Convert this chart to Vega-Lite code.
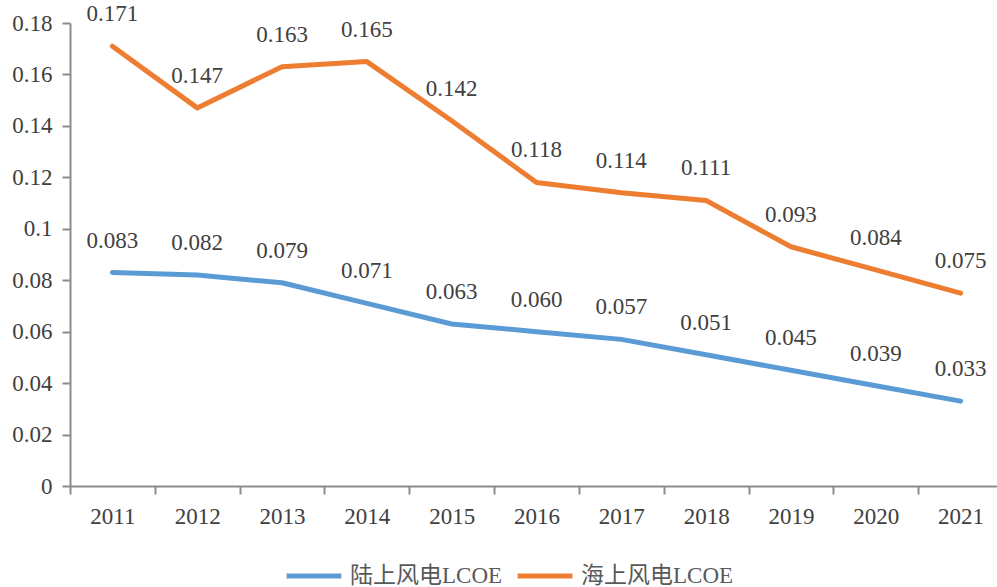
{
  "$schema": "https://vega.github.io/schema/vega-lite/v6.json",
  "width": 933,
  "height": 463,
  "autosize": {"type": "none"},
  "padding": {"left": 70, "top": 23, "right": 0, "bottom": 101},
  "background": "white",
  "config": {
    "view": {"stroke": null},
    "font": "Liberation Serif",
    "axis": {"grid": false, "domainColor": "#8c8c8c", "tickColor": "#8c8c8c", "domainWidth": 2, "tickWidth": 2, "tickSize": 8, "labelColor": "#404040", "labelFont": "Liberation Serif", "labelFontSize": 23}
  },
  "data": {
    "values": [
      {"year": "2011", "series": "陆上风电LCOE", "v": 0.083},
      {"year": "2012", "series": "陆上风电LCOE", "v": 0.082},
      {"year": "2013", "series": "陆上风电LCOE", "v": 0.079},
      {"year": "2014", "series": "陆上风电LCOE", "v": 0.071},
      {"year": "2015", "series": "陆上风电LCOE", "v": 0.063},
      {"year": "2016", "series": "陆上风电LCOE", "v": 0.060},
      {"year": "2017", "series": "陆上风电LCOE", "v": 0.057},
      {"year": "2018", "series": "陆上风电LCOE", "v": 0.051},
      {"year": "2019", "series": "陆上风电LCOE", "v": 0.045},
      {"year": "2020", "series": "陆上风电LCOE", "v": 0.039},
      {"year": "2021", "series": "陆上风电LCOE", "v": 0.033},
      {"year": "2011", "series": "海上风电LCOE", "v": 0.171},
      {"year": "2012", "series": "海上风电LCOE", "v": 0.147},
      {"year": "2013", "series": "海上风电LCOE", "v": 0.163},
      {"year": "2014", "series": "海上风电LCOE", "v": 0.165},
      {"year": "2015", "series": "海上风电LCOE", "v": 0.142},
      {"year": "2016", "series": "海上风电LCOE", "v": 0.118},
      {"year": "2017", "series": "海上风电LCOE", "v": 0.114},
      {"year": "2018", "series": "海上风电LCOE", "v": 0.111},
      {"year": "2019", "series": "海上风电LCOE", "v": 0.093},
      {"year": "2020", "series": "海上风电LCOE", "v": 0.084},
      {"year": "2021", "series": "海上风电LCOE", "v": 0.075}
    ]
  },
  "encoding": {
    "x": {
      "field": "year", "type": "ordinal", "bandPosition": 0.5,
      "scale": {"type": "band", "paddingInner": 0, "paddingOuter": 0},
      "axis": {"title": null, "labelAngle": 0, "tickBand": "extent", "labelPadding": 11}
    },
    "y": {
      "field": "v", "type": "quantitative",
      "scale": {"domain": [0, 0.18], "nice": false},
      "axis": {"title": null, "values": [0, 0.02, 0.04, 0.06, 0.08, 0.1, 0.12, 0.14, 0.16, 0.18], "format": "~g", "labelPadding": 10}
    }
  },
  "layer": [
    {
      "mark": {"type": "line", "strokeWidth": 5, "strokeCap": "round", "strokeJoin": "round"},
      "encoding": {
        "color": {
          "field": "series", "type": "nominal",
          "scale": {"domain": ["陆上风电LCOE", "海上风电LCOE"], "range": ["#5b9bd5", "#ed7d31"]},
          "legend": {
            "title": null, "orient": "none", "direction": "horizontal",
            "legendX": 214, "legendY": 523,
            "symbolType": "stroke", "symbolStrokeWidth": 5, "symbolSize": 3000,
            "labelFont": "Liberation Serif, Noto Sans CJK SC", "labelFontSize": 23, "labelColor": "#595959",
            "columnPadding": 4, "labelOffset": 6, "labelLimit": 300
          }
        }
      }
    },
    {
      "mark": {"type": "text", "dy": -32, "baseline": "middle", "fontSize": 23, "color": "#404040", "font": "Liberation Serif"},
      "encoding": {
        "text": {"field": "v", "type": "quantitative", "format": ".3f"},
        "detail": {"field": "series"}
      }
    }
  ]
}
